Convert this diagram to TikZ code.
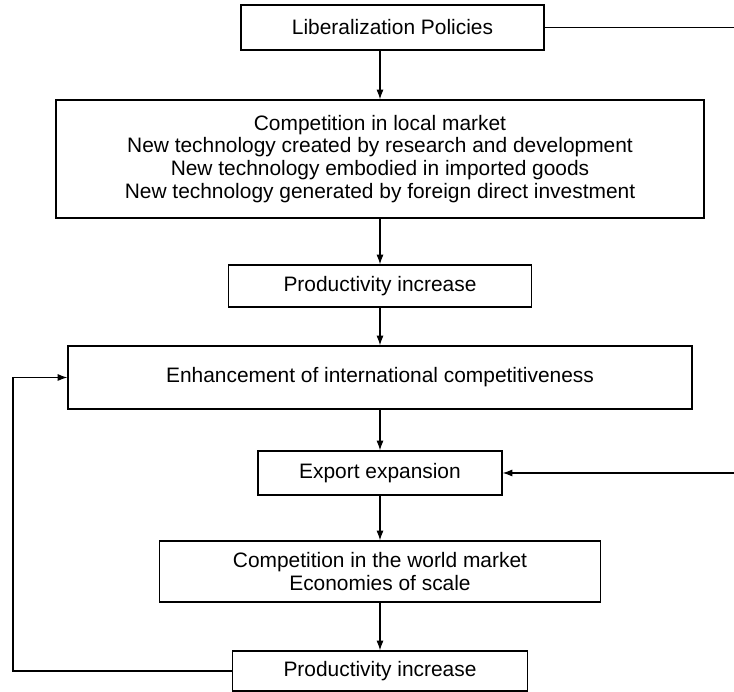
\documentclass[tikz,border=0pt]{standalone}
\usepackage{fontspec}
\setmainfont{Liberation Sans}
\usetikzlibrary{arrows.meta}
\tikzset{
blk/.style={draw,line width=0.8pt,inner sep=0pt,align=center,font=\fontsize{11.9}{13}\selectfont},
arr/.style={line width=0.6pt,-{Latex[length=5.5pt,width=4pt]}}
}
\begin{document}
\begin{tikzpicture}
\useasboundingbox (0,0) rectangle (14.68,-13.84);
\node[blk,minimum width=6.06cm,minimum height=0.9cm] (lib) at (7.85,-0.55) {Liberalization Policies};
\node[blk,minimum width=12.96cm,minimum height=2.36cm] (comp) at (7.6,-3.18) {Competition in local market\\New technology created by research and development\\New technology embodied in imported goods\\New technology generated by foreign direct investment};
\node[blk,minimum width=6.06cm,minimum height=0.84cm] (prod) at (7.6,-5.72) {Productivity increase};
\node[blk,minimum width=12.48cm,minimum height=1.26cm] (enh) at (7.6,-7.55) {Enhancement of international competitiveness};
\node[blk,minimum width=4.88cm,minimum height=0.88cm] (exp) at (7.6,-9.46) {Export expansion};
\node[blk,minimum width=8.82cm,minimum height=1.22cm] (world) at (7.6,-11.43) {Competition in the world market\\Economies of scale};
\node[blk,minimum width=5.9cm,minimum height=0.8cm] (prodb) at (7.6,-13.42) {Productivity increase};
\coordinate (rim) at (14.68,0);
\coordinate (loop) at (0.26,0);
\coordinate (libout) at (lib.east -| rim);
\coordinate (expin) at (exp.east -| rim);
\draw[arr] (lib.south -| comp.north) -- (comp.north);
\draw[arr] (comp.south) -- (prod.north);
\draw[arr] (prod.south) -- (enh.north);
\draw[arr] (enh.south) -- (exp.north);
\draw[arr] (exp.south) -- (world.north);
\draw[arr] (world.south) -- (prodb.north);
\draw[line width=0.6pt] (lib.east) -- (libout);
\draw[arr] (expin) -- (exp.east);
\draw[arr] (prodb.west) -- (prodb.west -| loop) |- (enh.west);
\end{tikzpicture}
\end{document}
